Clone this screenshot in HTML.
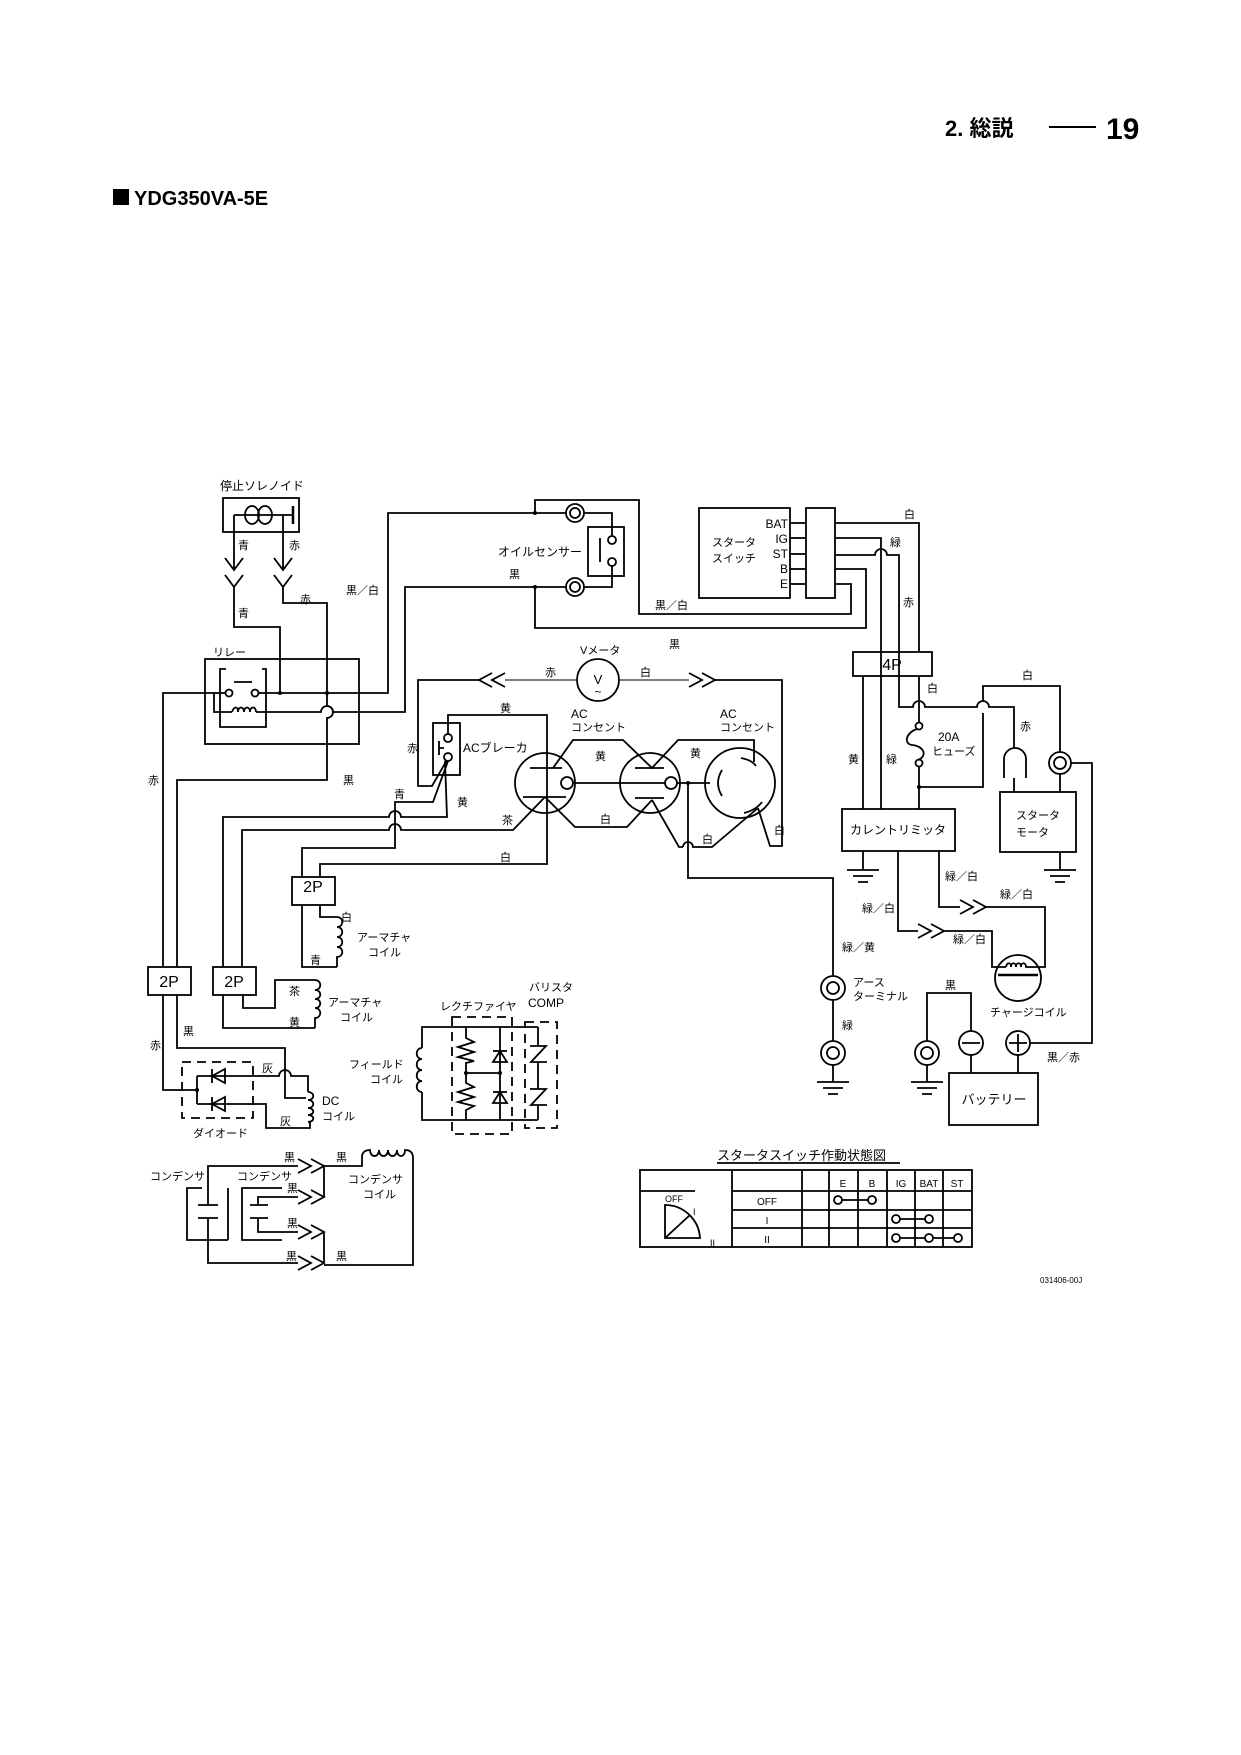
<!DOCTYPE html>
<html><head><meta charset="utf-8"><style>
html,body{margin:0;padding:0;background:#fff;}
svg{display:block}
text{font-family:"Liberation Sans","Noto Sans CJK JP",sans-serif;fill:#000}
</style></head><body>
<svg width="1241" height="1755" viewBox="0 0 1241 1755" xmlns="http://www.w3.org/2000/svg">
<g font-size="11">
<!-- header -->
<text x="945" y="136" font-size="22" font-weight="bold">2. 総説</text>
<line x1="1049" y1="127" x2="1096" y2="127" stroke="#000" stroke-width="2"/>
<text x="1106" y="139" font-size="30" font-weight="bold">19</text>
<rect x="113" y="189" width="16" height="16" fill="#000"/>
<text x="134" y="205" font-size="20" font-weight="bold">YDG350VA-5E</text>

<g fill="none" stroke="#000" stroke-width="1.8">
<!-- solenoid -->
<rect x="223" y="498" width="76" height="34"/>
<line x1="234" y1="515" x2="293" y2="515"/>
<ellipse cx="252" cy="515" rx="7" ry="9"/><ellipse cx="265" cy="515" rx="7" ry="9"/>
<line x1="293" y1="506" x2="293" y2="524" stroke-width="2.5"/>
<polyline points="234,515 234,570"/><polyline points="225,558 234,570 243,558"/>
<polyline points="225,575 234,587 243,575"/>
<polyline points="234,587 234,627 280,627 280,693"/>
<polyline points="283,515 283,570"/><polyline points="274,558 283,570 292,558"/>
<polyline points="274,575 283,587 292,575"/>
<path d="M283 587 V603 H327 V706 A6 6 0 0 1 327 718 V780 H177 V967"/>
<!-- relay -->
<rect x="205" y="659" width="154" height="85"/>
<polyline points="226,669 220,669 220,727 266,727 266,669 262,669"/>
<circle cx="229" cy="693" r="3.5"/><circle cx="255" cy="693" r="3.5"/>
<line x1="234" y1="682" x2="252" y2="682"/>
<path d="M232 712 c2-6 6-6 6 0 c0-6 6-6 6 0 c0-6 6-6 6 0 c0-6 6-6 6 0"/>
<polyline points="163,967 163,693 214,693 214,712 232,712"/>
<line x1="214" y1="693" x2="225" y2="693"/>
<polyline points="259,693 388,693 388,513 566,513"/>
<path d="M256 712 H321 A6 6 0 0 1 333 712 H405 V587 H566"/>
<!-- oil sensor -->
<circle cx="575" cy="513" r="9"/><circle cx="575" cy="513" r="5"/>
<circle cx="575" cy="587" r="9"/><circle cx="575" cy="587" r="5"/>
<rect x="588" y="527" width="36" height="49"/>
<line x1="600" y1="538" x2="600" y2="562"/>
<circle cx="612" cy="540" r="4"/><circle cx="612" cy="562" r="4"/>
<polyline points="584,513 612,513 612,536"/>
<polyline points="584,587 612,587 612,566"/>
<polyline points="535,513 535,500 639,500 639,614 851,614 851,584 835,584"/>
<polyline points="535,587 535,628 866,628 866,569 835,569"/>
<!-- starter switch -->
<rect x="699" y="508" width="91" height="90"/>
<rect x="806" y="508" width="29" height="90"/>
<line x1="790" y1="523" x2="806" y2="523"/><line x1="790" y1="538" x2="806" y2="538"/>
<line x1="790" y1="554" x2="806" y2="554"/><line x1="790" y1="569" x2="806" y2="569"/>
<line x1="790" y1="584" x2="806" y2="584"/>
<polyline points="835,523 919,523 919,652"/>
<polyline points="835,538 881,538 881,809"/>
<path d="M835 555 H875 A6 6 0 0 1 887 555 H899 V707 H913 A6 6 0 0 1 925 707 H977 A6 6 0 0 1 989 707 H1014 V748"/>
<!-- 4P -->
<rect x="853" y="652" width="79" height="24"/>
<line x1="863" y1="676" x2="863" y2="809"/>
<!-- fuse line -->
<line x1="919" y1="676" x2="919" y2="722"/>
<circle cx="919" cy="726" r="3.5"/><circle cx="919" cy="763" r="3.5"/>
<path d="M917 729 C905 733 904 744 912 745 C924 746 928 756 918 760"/>
<polyline points="919,767 919,809"/>
<polyline points="919,787 983,787 983,713"/>
<polyline points="983,701 983,686 1060,686 1060,752"/>
<path d="M1004 778 V759 A11 11 0 0 1 1026 759 V778"/>
<line x1="1014" y1="778" x2="1014" y2="792"/>
<circle cx="1060" cy="763" r="11"/><circle cx="1060" cy="763" r="6"/>
<line x1="1060" y1="774" x2="1060" y2="792"/>
<polyline points="1071,763 1092,763 1092,1043 1030,1043"/>
<rect x="842" y="809" width="113" height="42"/>
<rect x="1000" y="792" width="76" height="60"/>
<line x1="863" y1="851" x2="863" y2="870"/><line x1="1060" y1="852" x2="1060" y2="870"/>
<!-- charge lines -->
<polyline points="939,851 939,907 960,907"/>
<polyline points="960,900 973,907 960,914"/><polyline points="973,900 986,907 973,914"/>
<polyline points="986,907 1045,907 1045,967 1030,967"/>
<polyline points="898,851 898,931 918,931"/>
<polyline points="918,924 931,931 918,938"/><polyline points="931,924 944,931 931,938"/>
<polyline points="944,931 992,931 992,967 1006,967"/>
<circle cx="1018" cy="978" r="23"/>
<path d="M1006 967 c1-5 5-5 5 0 c0-5 5-5 5 0 c0-5 5-5 5 0 c0-5 5-5 5 0 h4"/>
<line x1="998" y1="975" x2="1038" y2="975" stroke-width="2.5"/>
<!-- earth -->
<polyline points="688,783 688,878 833,878 833,976"/>
<circle cx="833" cy="988" r="12"/><circle cx="833" cy="988" r="6"/>
<line x1="833" y1="1000" x2="833" y2="1041"/>
<circle cx="833" cy="1053" r="12"/><circle cx="833" cy="1053" r="6"/>
<line x1="833" y1="1065" x2="833" y2="1082"/>
<!-- battery -->
<circle cx="927" cy="1053" r="12"/><circle cx="927" cy="1053" r="6"/>
<polyline points="927,1041 927,993 971,993 971,1031"/>
<line x1="927" y1="1065" x2="927" y2="1082"/>
<circle cx="971" cy="1043" r="12"/><line x1="962" y1="1043" x2="980" y2="1043"/>
<circle cx="1018" cy="1043" r="12"/><line x1="1009" y1="1043" x2="1027" y2="1043"/><line x1="1018" y1="1034" x2="1018" y2="1052"/>
<line x1="971" y1="1055" x2="971" y2="1073"/><line x1="1018" y1="1055" x2="1018" y2="1073"/>
<rect x="949" y="1073" width="89" height="52"/>
<!-- grounds -->
<path d="M847 870 H879 M853 876 H873 M858 882 H868"/>
<path d="M1044 870 H1076 M1050 876 H1070 M1055 882 H1065"/>
<path d="M817 1082 H849 M823 1088 H843 M828 1094 H838"/>
<path d="M911 1082 H943 M917 1088 H937 M922 1094 H932"/>
<!-- V meter -->
<circle cx="598" cy="680" r="21"/>
<line x1="577" y1="680" x2="505" y2="680" stroke-width="1"/>
<polyline points="505,673 492,680 505,687"/><polyline points="492,673 479,680 492,687"/>
<polyline points="479,680 418,680 418,786 432,786 447,760"/>
<line x1="619" y1="680" x2="689" y2="680" stroke-width="1"/>
<polyline points="689,673 702,680 689,687"/><polyline points="702,673 715,680 702,687"/>
<polyline points="715,680 782,680 782,846 770,846 758,808"/>
<!-- breaker -->
<rect x="433" y="723" width="27" height="52"/>
<circle cx="448" cy="738" r="4"/><circle cx="448" cy="757" r="4"/>
<path d="M439 741 V755 M439 748 H444"/>
<polyline points="448,734 448,715 547,715 547,864 320,864 320,877"/>
<polyline points="448,761 433,802 395,802 395,848 302,848 302,877"/>
<path d="M445 761 L447 817 H401 A6 6 0 0 0 389 817 H223 V967"/>
<path d="M545 797 L513 830 H401 A6 6 0 0 0 389 830 H242 V967"/>
<!-- outlets -->
<circle cx="545" cy="783" r="30"/>
<line x1="530" y1="768" x2="562" y2="768"/><line x1="523" y1="797" x2="566" y2="797"/>
<circle cx="567" cy="783" r="6"/>
<circle cx="650" cy="783" r="30"/>
<line x1="635" y1="768" x2="664" y2="768"/><line x1="635" y1="783" x2="665" y2="783"/><line x1="635" y1="798" x2="664" y2="798"/>
<circle cx="671" cy="783" r="6"/>
<circle cx="740" cy="783" r="35"/>
<path d="M722 770 Q714 783 722 796"/>
<path d="M741 758 Q752 760 756 766"/>
<path d="M744 813 Q756 810 762 802"/>
<polyline points="553,768 573,740 623,740 652,768 678,740 754,740 754,762"/>
<polyline points="545,797 575,827 627,827 652,800"/>
<polyline points="652,800 679,847 683,847"/>
<path d="M683 847 A5 5 0 0 1 693 847 H712 L758 808"/>
<line x1="573" y1="783" x2="635" y2="783"/>
<line x1="677" y1="783" x2="710" y2="783"/>
<!-- 2P boxes and armature -->
<rect x="292" y="877" width="43" height="28"/>
<polyline points="302,905 302,967 337,967"/>
<polyline points="320,905 320,917 337,917"/>
<path d="M337 917 c7 0 7 10 0 10 c7 0 7 10 0 10 c7 0 7 10 0 10 c7 0 7 10 0 10 v10"/>
<rect x="148" y="967" width="43" height="28"/>
<rect x="213" y="967" width="43" height="28"/>
<polyline points="243,995 243,1008 275,1008 275,980 315,980"/>
<polyline points="223,995 223,1028 315,1028"/>
<path d="M315 980 c7 0 7 10 0 10 c7 0 7 9 0 9 c7 0 7 9 0 9 c7 0 7 10 0 10 v10"/>
<!-- diodes -->
<polyline points="163,995 163,1090 197,1090"/>
<polyline points="177,995 177,1048 285,1048 285,1098 306,1098"/>
<rect x="182" y="1062" width="71" height="56" stroke-dasharray="9,6"/>
<polyline points="197,1076 197,1104"/>
<path d="M197 1076 H279 A6 6 0 0 1 291 1076 H308 V1092"/>
<polyline points="197,1104 266,1104 266,1128 310,1128 310,1122"/>
<polygon points="225,1069 225,1083 212,1076"/><line x1="212" y1="1069" x2="212" y2="1083"/>
<polygon points="225,1097 225,1111 212,1104"/><line x1="212" y1="1097" x2="212" y2="1111"/>
<path d="M308 1092 c7 0 7 8 0 8 c7 0 7 8 0 8 c7 0 7 7 0 7 c7 0 7 7 0 7"/>
<!-- field coil / rectifier / varistor -->
<polyline points="422,1048 422,1027 538,1027"/>
<polyline points="422,1092 422,1120 538,1120"/>
<path d="M422 1048 c-7 0 -7 11 0 11 c-7 0 -7 11 0 11 c-7 0 -7 11 0 11 c-7 0 -7 11 0 11"/>
<rect x="452" y="1017" width="60" height="117" stroke-dasharray="9,6"/>
<polyline points="466,1027 466,1038 474,1042 458,1047 474,1052 458,1057 474,1061 466,1063 466,1083 474,1087 458,1092 474,1097 458,1102 474,1106 466,1110 466,1120"/>
<line x1="466" y1="1073" x2="500" y2="1073"/>
<line x1="500" y1="1027" x2="500" y2="1120"/>
<polygon points="493,1062 507,1062 500,1051"/><line x1="493" y1="1051" x2="507" y2="1051"/>
<polygon points="493,1103 507,1103 500,1092"/><line x1="493" y1="1092" x2="507" y2="1092"/>
<rect x="525" y="1022" width="32" height="106" stroke-dasharray="9,6"/>
<path d="M538 1027 V1046 M530 1046 H546 L531 1062 H547 M538 1062 V1089 M530 1089 H546 L531 1105 H547 M538 1105 V1120"/>
<!-- condensers -->
<polyline points="202,1188 187,1188 187,1240 228,1240"/>
<line x1="228" y1="1188" x2="228" y2="1240"/>
<line x1="198" y1="1205" x2="218" y2="1205"/><line x1="198" y1="1218" x2="218" y2="1218"/>
<polyline points="208,1205 208,1166 298,1166"/>
<polyline points="208,1218 208,1263 298,1263"/>
<polyline points="282,1188 242,1188 242,1240 282,1240"/>
<line x1="250" y1="1205" x2="268" y2="1205"/><line x1="250" y1="1218" x2="268" y2="1218"/>
<polyline points="258,1205 258,1197 298,1197"/>
<polyline points="258,1218 258,1232 298,1232"/>
<polyline points="298,1159 311,1166 298,1173"/><polyline points="311,1159 324,1166 311,1173"/>
<polyline points="298,1190 311,1197 298,1204"/><polyline points="311,1190 324,1197 311,1204"/>
<polyline points="298,1225 311,1232 298,1239"/><polyline points="311,1225 324,1232 311,1239"/>
<polyline points="298,1256 311,1263 298,1270"/><polyline points="311,1256 324,1263 311,1270"/>
<line x1="324" y1="1166" x2="324" y2="1197"/><line x1="324" y1="1232" x2="324" y2="1263"/>
<path d="M324 1166 H362 V1156 Q363 1150 370 1150 c0 8 9 8 9 0 c0 8 9 8 9 0 c0 8 9 8 9 0 c0 8 8 8 8 0 Q413 1150 413 1158 V1265 H324"/>
<!-- table -->
<rect x="640" y="1170" width="332" height="77" stroke-width="1.8"/>
<line x1="640" y1="1191" x2="695" y2="1191"/>
<line x1="732" y1="1191" x2="972" y2="1191"/>
<line x1="732" y1="1210" x2="972" y2="1210"/>
<line x1="732" y1="1228" x2="972" y2="1228"/>
<line x1="732" y1="1170" x2="732" y2="1247"/>
<line x1="802" y1="1170" x2="802" y2="1247"/>
<line x1="829" y1="1170" x2="829" y2="1247"/>
<line x1="858" y1="1170" x2="858" y2="1247"/>
<line x1="887" y1="1170" x2="887" y2="1247"/>
<line x1="915" y1="1170" x2="915" y2="1247"/>
<line x1="943" y1="1170" x2="943" y2="1247"/>
<path d="M665 1238 V1205 A35 35 0 0 1 700 1238 Z"/>
<line x1="665" y1="1238" x2="690" y2="1215"/>
<circle cx="838" cy="1200" r="4"/><circle cx="872" cy="1200" r="4"/><line x1="842" y1="1200" x2="868" y2="1200"/>
<circle cx="896" cy="1219" r="4"/><circle cx="929" cy="1219" r="4"/><line x1="900" y1="1219" x2="925" y2="1219"/>
<circle cx="896" cy="1238" r="4"/><circle cx="929" cy="1238" r="4"/><circle cx="958" cy="1238" r="4"/>
<line x1="900" y1="1238" x2="925" y2="1238"/><line x1="933" y1="1238" x2="954" y2="1238"/>
<line x1="717" y1="1163" x2="900" y2="1163"/>
</g>
<!-- junction dots -->
<g fill="#000">
<circle cx="280" cy="693" r="2"/><circle cx="327" cy="693" r="2"/>
<circle cx="535" cy="513" r="2"/><circle cx="535" cy="587" r="2"/>
<circle cx="919" cy="787" r="2"/><circle cx="688" cy="783" r="2"/>
<circle cx="197" cy="1090" r="2"/><circle cx="466" cy="1073" r="2"/><circle cx="500" cy="1073" r="2"/>
</g>

<!-- labels -->
<text x="220" y="490" font-size="12">停止ソレノイド</text>
<text x="238" y="549">青</text><text x="289" y="549">赤</text>
<text x="238" y="617">青</text><text x="300" y="603">赤</text>
<text x="346" y="594">黒／白</text>
<text x="213" y="656">リレー</text>
<text x="148" y="784">赤</text><text x="343" y="784">黒</text>
<text x="498" y="556" font-size="12">オイルセンサー</text>
<text x="509" y="578">黒</text>
<text x="655" y="609">黒／白</text><text x="669" y="648">黒</text>
<g text-anchor="end" font-size="12"><text x="788" y="528">BAT</text><text x="788" y="543">IG</text><text x="788" y="558">ST</text><text x="788" y="573">B</text><text x="788" y="588">E</text></g>
<text x="712" y="546">スタータ</text><text x="712" y="562">スイッチ</text>
<text x="904" y="518">白</text><text x="890" y="546">緑</text><text x="903" y="606">赤</text>
<text x="892" y="670" font-size="16" text-anchor="middle">4P</text>
<text x="848" y="763">黄</text><text x="886" y="763">緑</text><text x="927" y="692">白</text>
<text x="938" y="741" font-size="12">20A</text><text x="932" y="755">ヒューズ</text>
<text x="1020" y="730">赤</text><text x="1022" y="679">白</text>
<text x="898" y="834" text-anchor="middle" font-size="12">カレントリミッタ</text>
<text x="1016" y="819">スタータ</text><text x="1016" y="836">モータ</text>
<text x="945" y="880">緑／白</text><text x="1000" y="898">緑／白</text>
<text x="862" y="912">緑／白</text><text x="953" y="943">緑／白</text>
<text x="842" y="951">緑／黄</text>
<text x="990" y="1016">チャージコイル</text>
<text x="853" y="986">アース</text><text x="853" y="1000">ターミナル</text>
<text x="842" y="1029">緑</text>
<text x="945" y="989">黒</text><text x="1047" y="1061">黒／赤</text>
<text x="994" y="1104" text-anchor="middle" font-size="13">バッテリー</text>
<text x="580" y="654">Vメータ</text>
<text x="598" y="684" text-anchor="middle" font-size="13">V</text><text x="598" y="696" text-anchor="middle" font-size="12">~</text>
<text x="545" y="676">赤</text><text x="640" y="676">白</text>
<text x="500" y="712">黄</text>
<text x="407" y="752">赤</text><text x="463" y="752" font-size="12">ACブレーカ</text>
<text x="394" y="798">青</text><text x="457" y="806">黄</text><text x="502" y="824">茶</text>
<text x="500" y="861">白</text>
<text x="571" y="718" font-size="12">AC</text><text x="571" y="731">コンセント</text>
<text x="720" y="718" font-size="12">AC</text><text x="720" y="731">コンセント</text>
<text x="595" y="760">黄</text><text x="690" y="757">黄</text>
<text x="600" y="823">白</text><text x="702" y="843">白</text><text x="774" y="834">白</text>
<text x="313" y="892" font-size="16" text-anchor="middle">2P</text>
<text x="169" y="987" font-size="16" text-anchor="middle">2P</text>
<text x="234" y="987" font-size="16" text-anchor="middle">2P</text>
<text x="341" y="921">白</text><text x="310" y="964">青</text>
<text x="357" y="941">アーマチャ</text><text x="368" y="956">コイル</text>
<text x="289" y="995">茶</text><text x="289" y="1026">黄</text>
<text x="328" y="1006">アーマチャ</text><text x="340" y="1021">コイル</text>
<text x="183" y="1035">黒</text><text x="150" y="1049">赤</text>
<text x="262" y="1072">灰</text><text x="280" y="1125">灰</text>
<text x="193" y="1137">ダイオード</text>
<text x="322" y="1105" font-size="12">DC</text><text x="322" y="1120">コイル</text>
<text x="440" y="1010">レクチファイヤ</text>
<text x="529" y="991">バリスタ</text><text x="528" y="1007" font-size="12">COMP</text>
<text x="349" y="1068">フィールド</text><text x="370" y="1083">コイル</text>
<text x="150" y="1180">コンデンサ</text><text x="237" y="1180">コンデンサ</text>
<text x="284" y="1161">黒</text><text x="336" y="1161">黒</text>
<text x="287" y="1192">黒</text><text x="287" y="1227">黒</text>
<text x="286" y="1260">黒</text><text x="336" y="1260">黒</text>
<text x="348" y="1183">コンデンサ</text><text x="363" y="1198">コイル</text>
<text x="717" y="1160" font-size="13">スタータスイッチ作動状態図</text>
<g font-size="10" text-anchor="middle">
<text x="843" y="1187">E</text><text x="872" y="1187">B</text><text x="901" y="1187">IG</text><text x="929" y="1187">BAT</text><text x="957" y="1187">ST</text>
<text x="767" y="1205">OFF</text><text x="767" y="1224" font-family="Liberation Serif">I</text><text x="767" y="1243" font-family="Liberation Serif">II</text>
</g>
<text x="665" y="1202" font-size="9">OFF</text>
<text x="693" y="1215" font-size="9" font-family="Liberation Serif">I</text>
<text x="710" y="1246" font-size="9" font-family="Liberation Serif">II</text>
<text x="1040" y="1283" font-size="8">031406-00J</text>
</g>
</svg>
</body></html>
